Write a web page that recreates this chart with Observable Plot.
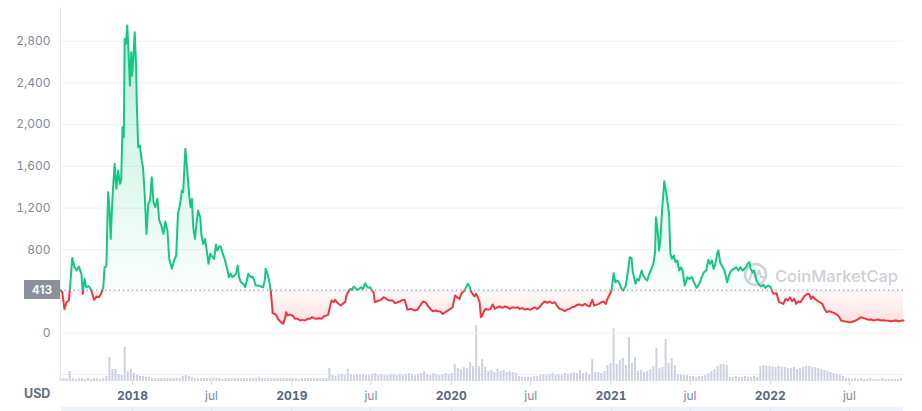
<!DOCTYPE html>
<html><head><meta charset="utf-8">
<script src="https://cdn.jsdelivr.net/npm/d3@7"></script>
<script src="https://cdn.jsdelivr.net/npm/@observablehq/plot@0.6"></script>
<style>
html,body{margin:0;padding:0;background:#fff;}
#chart{position:relative;width:922px;height:411px;font-family:Inter,"DejaVu Sans",sans-serif;overflow:hidden;background:#fff}
#chart > svg, #chart > div{position:absolute;left:0;top:0}
</style></head><body><div id="chart"></div>
<script>
// ---- price series (USD) ----
const priceDates = [
"2017-07-20","2017-07-24","2017-07-29","2017-08-03","2017-08-08","2017-08-10","2017-08-16","2017-08-21","2017-08-26","2017-08-31",
"2017-09-06","2017-09-09","2017-09-13","2017-09-17","2017-09-23","2017-09-28","2017-10-05","2017-10-11","2017-10-16","2017-10-21",
"2017-10-26","2017-10-29","2017-11-02","2017-11-06","2017-11-09","2017-11-12","2017-11-15","2017-11-18","2017-11-21","2017-11-25",
"2017-11-29","2017-12-03","2017-12-06","2017-12-09","2017-12-12","2017-12-14","2017-12-17","2017-12-20","2017-12-23","2017-12-26",
"2017-12-29","2017-12-31","2018-01-03","2018-01-06","2018-01-09","2018-01-11","2018-01-14","2018-01-18","2018-01-22","2018-01-25",
"2018-01-29","2018-02-02","2018-02-06","2018-02-10","2018-02-14","2018-02-18","2018-02-22","2018-02-27","2018-03-03","2018-03-08",
"2018-03-13","2018-03-17","2018-03-22","2018-03-26","2018-04-01","2018-04-06","2018-04-11","2018-04-15","2018-04-20","2018-04-24",
"2018-04-27","2018-05-02","2018-05-07","2018-05-11","2018-05-14","2018-05-17","2018-05-20","2018-05-24","2018-05-27","2018-05-31",
"2018-06-05","2018-06-08","2018-06-12","2018-06-16","2018-06-20","2018-06-24","2018-06-28",
"2018-07-01","2018-07-07","2018-07-11","2018-07-14","2018-07-18","2018-07-22","2018-07-27","2018-07-31","2018-08-05","2018-08-10",
"2018-08-14","2018-08-18","2018-08-22","2018-08-26","2018-08-30","2018-09-02","2018-09-06","2018-09-12","2018-09-16","2018-09-20",
"2018-09-23","2018-09-29","2018-10-03","2018-10-07","2018-10-10","2018-10-16","2018-10-22","2018-10-27","2018-10-31","2018-11-02",
"2018-11-06","2018-11-10","2018-11-14","2018-11-18","2018-11-22","2018-11-25","2018-12-01","2018-12-07","2018-12-12","2018-12-16",
"2018-12-19","2018-12-22","2018-12-27","2019-01-03","2019-01-08","2019-01-14","2019-01-20","2019-01-25","2019-01-31","2019-02-06",
"2019-02-12","2019-02-16","2019-02-21","2019-02-26","2019-03-04","2019-03-10","2019-03-15","2019-03-20","2019-03-25","2019-03-30",
"2019-04-02","2019-04-07","2019-04-10","2019-04-14","2019-04-20","2019-04-23","2019-04-27","2019-05-03","2019-05-06","2019-05-10",
"2019-05-14","2019-05-18","2019-05-23","2019-05-26","2019-05-30","2019-06-04","2019-06-08","2019-06-13","2019-06-18","2019-06-21",
"2019-06-25","2019-06-29","2019-07-04","2019-07-07","2019-07-10","2019-07-15","2019-07-20","2019-07-24","2019-07-30","2019-08-03",
"2019-08-08","2019-08-14","2019-08-20","2019-08-25","2019-08-31","2019-09-07",
"2019-09-08","2019-09-16","2019-09-19","2019-09-23","2019-09-29","2019-10-05","2019-10-10","2019-10-16","2019-10-22","2019-10-28",
"2019-11-03","2019-11-08","2019-11-14","2019-11-20","2019-11-26","2019-12-01","2019-12-07","2019-12-13","2019-12-18","2019-12-24",
"2019-12-30","2020-01-04","2020-01-10","2020-01-14","2020-01-20","2020-01-24","2020-01-27","2020-01-31","2020-02-04","2020-02-08",
"2020-02-12","2020-02-16","2020-02-19","2020-02-23","2020-02-27","2020-03-02","2020-03-06","2020-03-09","2020-03-12","2020-03-16",
"2020-03-20","2020-03-26","2020-03-31","2020-04-05","2020-04-10","2020-04-16","2020-04-21","2020-04-27","2020-05-03","2020-05-09",
"2020-05-14","2020-05-20","2020-05-26","2020-06-01","2020-06-06","2020-06-12","2020-06-18","2020-06-24","2020-06-29","2020-07-04",
"2020-07-10","2020-07-16","2020-07-21","2020-07-27","2020-08-02","2020-08-08","2020-08-13","2020-08-19","2020-08-25","2020-08-30",
"2020-09-05","2020-09-11","2020-09-17","2020-09-23","2020-09-28","2020-10-04","2020-10-10","2020-10-15","2020-10-21","2020-10-27",
"2020-11-02","2020-11-08","2020-11-13","2020-11-19","2020-11-23","2020-11-28","2020-12-04","2020-12-10","2020-12-15","2020-12-20",
"2020-12-24","2020-12-29","2021-01-02","2021-01-04","2021-01-07","2021-01-11","2021-01-16","2021-01-21","2021-01-25",
"2021-01-29","2021-02-04","2021-02-09","2021-02-13","2021-02-17","2021-02-20","2021-02-26","2021-03-02","2021-03-06","2021-03-12",
"2021-03-16","2021-03-21","2021-03-25","2021-03-29","2021-04-02","2021-04-08","2021-04-12","2021-04-14","2021-04-17","2021-04-19",
"2021-04-21","2021-04-24","2021-04-28","2021-05-03","2021-05-06","2021-05-10","2021-05-14","2021-05-17","2021-05-21","2021-05-25",
"2021-05-29","2021-06-02","2021-06-06","2021-06-10","2021-06-14","2021-06-19","2021-06-25","2021-06-29","2021-07-05","2021-07-10",
"2021-07-16","2021-07-22","2021-07-28","2021-08-02","2021-08-07","2021-08-12","2021-08-16","2021-08-20","2021-08-24","2021-08-28",
"2021-09-02","2021-09-04","2021-09-08","2021-09-14","2021-09-18","2021-09-24","2021-09-27","2021-10-01","2021-10-05","2021-10-10",
"2021-10-15","2021-10-20","2021-10-24","2021-10-30","2021-11-02","2021-11-06","2021-11-10","2021-11-14","2021-11-17","2021-11-21",
"2021-11-25","2021-11-30","2021-12-05","2021-12-10","2021-12-16","2021-12-21","2021-12-27","2022-01-02","2022-01-06","2022-01-09",
"2022-01-15","2022-01-21",
"2022-01-31","2022-02-05","2022-02-10","2022-02-15","2022-02-20","2022-02-25","2022-03-01","2022-03-06","2022-03-11","2022-03-16",
"2022-03-21","2022-03-27","2022-03-31","2022-04-04","2022-04-08","2022-04-13","2022-04-18","2022-04-24","2022-04-30","2022-05-05",
"2022-05-10","2022-05-16","2022-05-22","2022-05-28","2022-06-02","2022-06-08","2022-06-12","2022-06-18","2022-06-23","2022-06-29",
"2022-07-05","2022-07-11","2022-07-16","2022-07-22","2022-07-28","2022-08-03","2022-08-08","2022-08-14","2022-08-20","2022-08-26",
"2022-08-31","2022-09-06","2022-09-12","2022-09-17","2022-09-22","2022-09-28","2022-10-05","2022-10-10","2022-10-16","2022-10-21",
"2022-10-27","2022-11-02"
];
const priceValues = [
413,393,233,297,313,393,722,633,601,639,
569,377,521,441,451,415,320,352,345,377,
441,633,639,1352,1208,904,1208,1432,1624,1384,
1560,1432,1464,1975,1880,2822,2774,2950,2678,2374,
2694,2470,2646,2886,2582,2167,1783,1799,1656,1592,
1320,952,1240,1272,1496,1256,1208,1288,1087,1032,
952,1071,984,713,617,697,745,1144,1240,1368,
1352,1767,1528,1304,1208,1288,1016,904,1032,1176,
1112,936,856,904,793,665,761,
744,712,850,792,831,831,760,712,632,537,
569,537,553,569,649,537,489,473,441,505,
569,537,543,505,457,457,448,441,511,617,
569,505,393,192,186,179,131,106,90,138,
201,169,179,169,138,138,122,128,122,138,
138,154,144,138,144,138,160,169,176,265,
313,297,320,297,275,265,281,297,361,393,
425,415,447,435,415,425,441,425,479,457,
435,441,409,393,297,307,313,320,345,336,
320,313,313,288,297,307,
313,320,281,224,233,227,217,227,265,304,
297,265,233,211,217,211,208,185,201,217,
233,249,361,345,329,377,393,409,441,473,
447,393,377,352,377,345,297,153,169,211,
233,224,233,275,233,249,256,243,256,249,
233,249,243,249,233,240,227,233,224,233,
249,233,249,281,304,291,304,288,297,265,
233,227,211,227,233,249,256,272,275,265,
281,265,256,320,265,272,281,297,304,281,
329,371,409,473,575,489,505,473,425,
409,457,601,729,722,585,473,521,505,601,
553,521,505,563,601,665,777,1112,1016,921,
793,889,1176,1458,1384,1272,1144,761,713,745,
681,697,601,633,601,457,537,521,537,489,
435,473,537,585,601,703,665,697,617,665,
777,793,681,633,601,489,537,585,607,617,
633,601,633,601,617,633,665,681,617,585,
601,505,473,448,463,435,457,441,393,378,
384,298,
281,329,313,345,307,329,281,304,297,329,
361,377,377,329,352,329,313,297,281,233,
201,211,201,192,179,154,122,115,112,106,
106,115,122,138,154,144,138,128,131,122,
128,131,122,125,122,119,115,119,122,115,
119,122
];

// ---- weekly trading volume (hundred million USD) ----
const volumeStart = "2017-07-20";
const volumeValues = [
3,3,3,10,3,2,3,3,2,3,2,3,3,2,3,
5,24,
12,12,7,6,34,10,12,8,6,5,5,4,
4,3,3,3,3,3,3,3,3,3,3,
5,6,5,4,
3,3,3,3,3,3,3,3,3,2,3,3,3,3,3,3,3,3,3,3,3,4,3,3,3,3,3,3,3,3,3,3,3,3,2,3,3,3,3,3,3,3,3,3,
13,
6,5,6,7,6,12,7,
6,7,6,7,6,6,7,8,6,7,6,6,7,7,6,7,6,7,8,7,6,7,8,10,7,6,8,7,6,7,8,7,8,
17,13,12,14,13,19,15,56,15,22,14,
10,11,9,12,10,11,9,10,9,8,
5,4,4,4,4,5,5,
6,7,6,7,8,6,7,6,8,7,8,9,8,11,8,9,7,
22,
9,9,8,10,
16,18,
53,
17,21,23,16,44,18,24,
10,11,9,10,12,
15,33,13,14,42,18,23,16,
7,7,6,6,
5,5,4,5,5,6,
8,10,12,15,17,17,16,
4,4,5,4,4,5,4,4,5,4,
15,16,15,15,15,14,15,14,14,13,13,14,12,13,14,15,15,14,14,13,12,11,10,
9,8,7,6,5,
3,3,2,3,2,3,2,2,3,2,2,2,3,2,2,2,2,2,3
];

// ---- axes ----
const gridValues = [0, 400, 800, 1200, 1600, 2000, 2400, 2800];
const yTickLabels = [0, 800, 1200, 1600, 2000, 2400, 2800];
const xTickDates = ["2018-01-01","2018-07-01","2019-01-01","2019-07-01","2020-01-01","2020-07-01","2021-01-01","2021-07-01","2022-01-01","2022-07-01"];
const xTickLabels = ["2018","jul","2019","jul","2020","jul","2021","jul","2022","jul"];
const currency = "USD";
const watermark = "CoinMarketCap";

const UP = "#16c784", DOWN = "#ea3943";
const W = 922, H = 411, ML = 60, MR = 19;

const price = priceDates.map((d, i) => ({date: new Date(d), value: priceValues[i]}));
const baseline = priceValues[0];
const v0 = new Date(volumeStart);
const volume = volumeValues.map((v, i) => ({date: d3.utcDay.offset(v0, 7 * i), v}));
const xDomain = [price[0].date, price[price.length - 1].date];
const tickDates = xTickDates.map(d => new Date(d));
const tickLabel = new Map(tickDates.map((d, i) => [+d, xTickLabels[i]]));

const chart = document.getElementById("chart");

// volume + x axis (bottom layer)
const volChart = Plot.plot({
  width: W, height: H, marginLeft: ML, marginRight: MR, marginTop: 7, marginBottom: 30,
  style: {fontFamily: "Inter, sans-serif", fontSize: "12px", color: "#d3d8e2", background: "transparent"},
  x: {type: "utc", domain: xDomain, ticks: tickDates, tickFormat: d => tickLabel.get(+d) || "", tickSize: 4, tickPadding: 6, label: null},
  y: {domain: [0, 374], axis: null},
  marks: [
    Plot.ruleY([7], {stroke: "#eceef2"}),
    Plot.ruleX(volume, {x: "date", y1: 0, y2: "v", stroke: "#cdd1e0", strokeWidth: 2}),
    Plot.ruleX([xDomain[0]], {stroke: "#e3e6eb"})
  ]
});
volChart.querySelectorAll("text").forEach(t => {
  const s = t.textContent;
  if (/^\d{4}$/.test(s)) { t.setAttribute("fill", "#58667e"); t.setAttribute("font-weight", "700"); }
  else { t.setAttribute("fill", "#808a9d"); }
});
chart.appendChild(volChart);

// bottom navigator band
const xS = d3.scaleUtc(xDomain, [ML, W - MR]);
const band = document.createElement("div");
band.style.cssText = `left:${ML + 1}px;top:407px;width:${W - MR - ML - 1}px;height:4px;background:#eef2fc;`;
tickDates.forEach(d => {
  const s = document.createElement("div");
  s.style.cssText = `position:absolute;top:0;left:${xS(d) - ML - 1}px;width:1px;height:4px;background:#dfe5f5;`;
  band.appendChild(s);
});
chart.appendChild(band);

// watermark
const wm = document.createElement("div");
wm.innerHTML = `<svg width="${W}" height="${H}" style="position:absolute;left:0;top:0">
  <circle cx="755.5" cy="274.5" r="10.5" fill="none" stroke="#cfd3da" stroke-width="2.6"/>
  <path d="M749.5 280 L752.5 270.5 L755.8 278 L759 270.5 L761 277 L765 277" fill="none" stroke="#cfd3da" stroke-width="2.2" stroke-linejoin="round" stroke-linecap="round"/>
  <text x="775" y="282" font-family="Inter, sans-serif" font-size="16.5" font-weight="500" fill="#cdd1d8">${watermark}</text>
</svg>`;
chart.appendChild(wm);

// price (top layer)
const yDomain = [-70, 3190];
const priceChart = Plot.plot({
  width: W, height: H, marginLeft: ML, marginRight: MR, marginTop: 0, marginBottom: 71,
  style: {fontFamily: "Inter, sans-serif", fontSize: "12px", color: "#808a9d", background: "transparent", overflow: "visible"},
  x: {type: "utc", domain: xDomain, axis: null},
  y: {domain: yDomain, ticks: yTickLabels, tickFormat: d3.format(","), tickSize: 0, tickPadding: 10, label: null},
  marks: [
    Plot.ruleY(gridValues, {stroke: "#eff1f4"}),
    Plot.areaY(price, {x: "date", y1: baseline, y2: "value", fill: "url(#gUp)"}),
    Plot.areaY(price, {x: "date", y1: baseline, y2: "value", fill: "url(#gDown)"}),
    Plot.ruleY([baseline], {stroke: "#8d939d", strokeWidth: 1.1, strokeDasharray: "1.2,3.3"}),
    Plot.lineY(price, {x: "date", y: "value", stroke: UP, strokeWidth: 2}),
    Plot.lineY(price, {x: "date", y: "value", stroke: DOWN, strokeWidth: 2})
  ]
});
const yS = d3.scaleLinear(yDomain, [H - 71, 0]);
const yb = yS(baseline), yTop = yS(d3.max(priceValues)), y0 = yS(0);
const NS = "http://www.w3.org/2000/svg";
function el(tag, attrs, parent) {
  const e = document.createElementNS(NS, tag);
  for (const k in attrs) e.setAttribute(k, attrs[k]);
  if (parent) parent.appendChild(e);
  return e;
}
const defs = el("defs", {});
const gu = el("linearGradient", {id: "gUp", gradientUnits: "userSpaceOnUse", x1: 0, y1: yTop, x2: 0, y2: yb}, defs);
el("stop", {offset: 0, "stop-color": UP, "stop-opacity": 0.30}, gu);
el("stop", {offset: 1, "stop-color": UP, "stop-opacity": 0.02}, gu);
const gd = el("linearGradient", {id: "gDown", gradientUnits: "userSpaceOnUse", x1: 0, y1: yb, x2: 0, y2: y0}, defs);
el("stop", {offset: 0, "stop-color": DOWN, "stop-opacity": 0.02}, gd);
el("stop", {offset: 1, "stop-color": DOWN, "stop-opacity": 0.20}, gd);
const cu = el("clipPath", {id: "cUp"}, defs);
el("rect", {x: -10, y: -20, width: W + 20, height: yb + 20}, cu);
const cd = el("clipPath", {id: "cDown"}, defs);
el("rect", {x: -10, y: yb, width: W + 20, height: H - yb + 20}, cd);
priceChart.insertBefore(defs, priceChart.firstChild);
const areas = priceChart.querySelectorAll('g[aria-label="area"]');
const lines = priceChart.querySelectorAll('g[aria-label="line"]');
if (areas[0]) areas[0].setAttribute("clip-path", "url(#cUp)");
if (areas[1]) areas[1].setAttribute("clip-path", "url(#cDown)");
if (lines[0]) lines[0].setAttribute("clip-path", "url(#cUp)");
if (lines[1]) lines[1].setAttribute("clip-path", "url(#cDown)");
priceChart.style.pointerEvents = "none";
chart.appendChild(priceChart);

// baseline badge and currency label
const badge = document.createElement("div");
badge.textContent = String(baseline);
badge.style.cssText = `left:24px;top:${yb - 9.5}px;width:36px;height:19px;line-height:19px;background:#8b919b;color:#fff;font-size:12px;font-weight:600;text-align:center;`;
chart.appendChild(badge);
const usd = document.createElement("div");
usd.textContent = currency;
usd.style.cssText = `left:24px;top:386px;font-size:12.5px;font-weight:700;color:#616e85;line-height:16px;`;
chart.appendChild(usd);
</script></body></html>
